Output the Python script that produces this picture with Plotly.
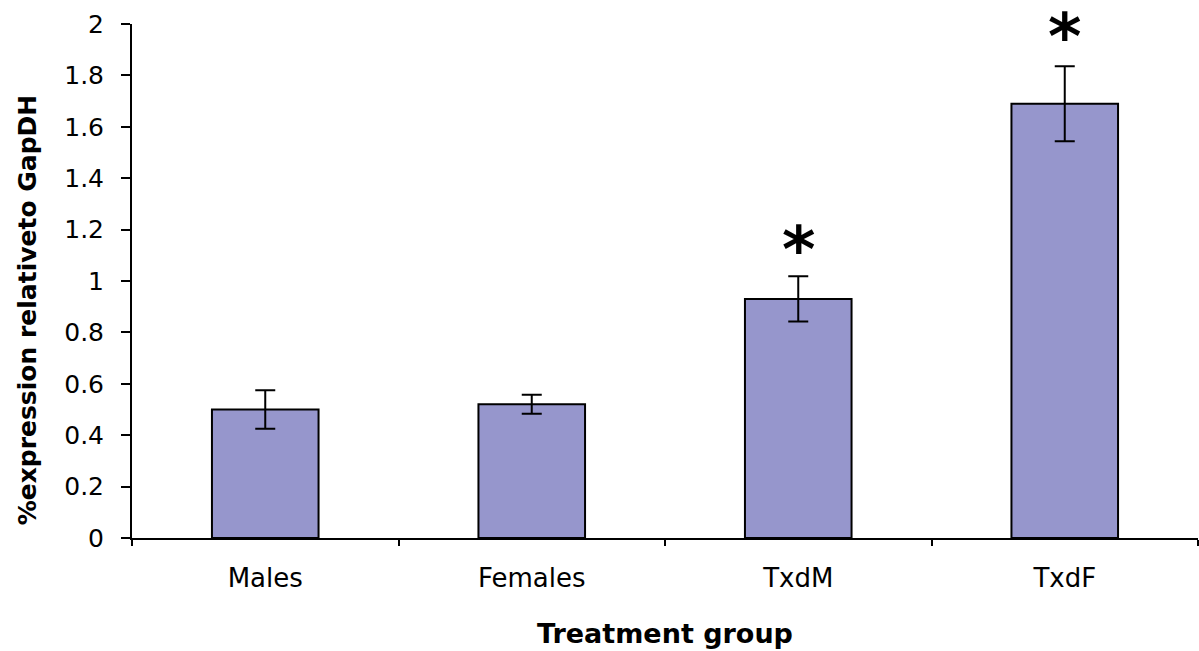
import plotly.graph_objects as go

categories = ["Males", "Females", "TxdM", "TxdF"]
values = [0.50, 0.52, 0.93, 1.69]
errors = [0.075, 0.037, 0.088, 0.146]
significant = ["", "", "*", "*"]
star_y = [None, None, 1.12, 1.95]

y_ticks = [0, 0.2, 0.4, 0.6, 0.8, 1, 1.2, 1.4, 1.6, 1.8, 2]
y_tick_text = ["0", "0.2", "0.4", "0.6", "0.8", "1", "1.2", "1.4", "1.6", "1.8", "2"]

fig = go.Figure()
fig.add_trace(go.Bar(
    x=categories, y=values,
    width=0.4,
    marker=dict(color="#9696CC", line=dict(color="black", width=2)),
    error_y=dict(type="data", array=errors, visible=True,
                 color="black", thickness=2, width=10),
))

for c, s, yy in zip(categories, significant, star_y):
    if s:
        fig.add_annotation(x=c, y=yy, text="<b>" + s + "</b>", showarrow=False,
                           font=dict(family="DejaVu Sans", size=64, color="black"),
                           xanchor="center", yanchor="middle")

fig.add_annotation(xref="paper", yref="paper", x=-0.098, y=0.444,
                   text="<b>%expression relativeto GapDH</b>", textangle=-90,
                   showarrow=False, xanchor="center", yanchor="middle",
                   font=dict(family="DejaVu Sans", size=25, color="black"))

fig.update_layout(
    width=1199, height=651,
    margin=dict(l=132, r=1, t=24, b=113),
    paper_bgcolor="white", plot_bgcolor="white",
    showlegend=False,
    bargap=0.6,
    xaxis=dict(
        title=dict(text="<b>Treatment group</b>", standoff=32,
                   font=dict(family="DejaVu Sans", size=27, color="black")),
        tickson="boundaries", ticks="outside", ticklen=6, tickwidth=2, tickcolor="black",
        showline=True, linecolor="black", linewidth=2,
        ticklabelstandoff=16,
        tickfont=dict(family="DejaVu Sans", size=26, color="black"),
        range=[-0.5, 3.5],
    ),
    yaxis=dict(
        range=[0, 2], tickvals=y_ticks, ticktext=y_tick_text,
        ticks="outside", ticklen=9, tickwidth=2, tickcolor="black",
        showline=True, linecolor="black", linewidth=2,
        showgrid=False, zeroline=False,
        ticklabelstandoff=12,
        tickfont=dict(family="DejaVu Sans", size=25, color="black"),
    ),
)

fig.write_html("out.html", config={"displayModeBar": False},
               post_script="document.body.style.margin='0';document.body.style.overflow='hidden';")
